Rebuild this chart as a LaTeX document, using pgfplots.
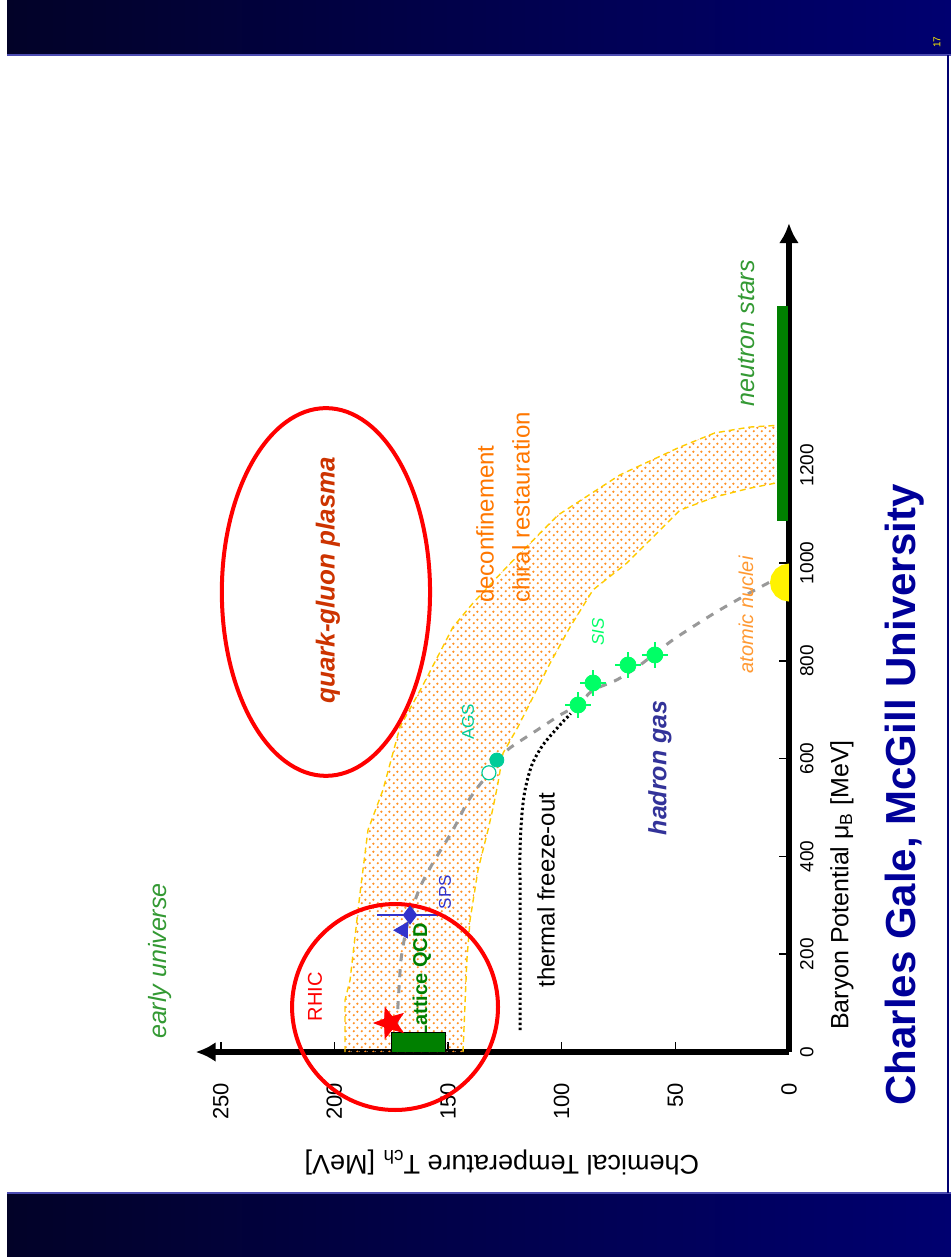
\documentclass[border=0pt]{standalone}
\usepackage{pgfplots}
\pgfplotsset{compat=1.18}
\usepackage{fontspec}
\setmainfont{Liberation Sans}
\usetikzlibrary{arrows.meta,patterns}
\definecolor{bandgold}{HTML}{FFCC00}
\definecolor{dotorange}{HTML}{FF9126}
\definecolor{qgpred}{HTML}{CC3300}
\definecolor{hadblue}{HTML}{333399}
\definecolor{decorange}{HTML}{FF7700}
\definecolor{eugreen}{HTML}{339933}
\definecolor{nsgreen}{HTML}{008000}
\definecolor{spsblue}{HTML}{3333CC}
\definecolor{agsteal}{HTML}{00CC99}
\definecolor{sisgreen}{HTML}{00FF66}
\definecolor{fogray}{HTML}{999999}
\definecolor{nucorange}{HTML}{FF9933}
\definecolor{authblue}{HTML}{000099}
\definecolor{bandL}{HTML}{020228}
\definecolor{bandR}{HTML}{000070}
\pgfdeclarepatterninherentlycolored{orangedots}{\pgfpointorigin}{\pgfpoint{4pt}{4pt}}{\pgfpoint{4pt}{4pt}}{%
  \pgfsetfillcolor{dotorange}%
  \pgfpathcircle{\pgfpoint{1pt}{1pt}}{0.7pt}%
  \pgfpathcircle{\pgfpoint{3pt}{3pt}}{0.7pt}%
  \pgfusepath{fill}}
\pgfdeclareplotmark{fstar}{%
  \pgfpathmoveto{\pgfpointpolar{90}{\pgfplotmarksize}}%
  \pgfpathlineto{\pgfpointpolar{126}{0.42\pgfplotmarksize}}%
  \pgfpathlineto{\pgfpointpolar{162}{\pgfplotmarksize}}%
  \pgfpathlineto{\pgfpointpolar{198}{0.42\pgfplotmarksize}}%
  \pgfpathlineto{\pgfpointpolar{234}{\pgfplotmarksize}}%
  \pgfpathlineto{\pgfpointpolar{270}{0.42\pgfplotmarksize}}%
  \pgfpathlineto{\pgfpointpolar{306}{\pgfplotmarksize}}%
  \pgfpathlineto{\pgfpointpolar{342}{0.42\pgfplotmarksize}}%
  \pgfpathlineto{\pgfpointpolar{18}{\pgfplotmarksize}}%
  \pgfpathlineto{\pgfpointpolar{54}{0.42\pgfplotmarksize}}%
  \pgfpathclose
  \pgfusepathqfillstroke}
\begin{document}
\begin{tikzpicture}
\begin{axis}[
  scale only axis,
  width=296.6pt, height=414.4pt,
  x dir=reverse,
  xmin=0, xmax=261, ymin=0, ymax=1695,
  enlargelimits=false,
  axis x line=bottom, axis y line=right,
  axis line style={line width=3pt, -{Latex[length=10pt,width=10pt]}},
  clip=false,
  xtick={0,50,100,150,200,250},
  ytick={0,200,400,600,800,1000,1200},
  tick align=inside,
  major tick length=5pt,
  tick style={black, line width=0.8pt},
  /pgf/number format/assume math mode=true,
  /pgf/number format/1000 sep={},
  xticklabel style={rotate=90, anchor=east, font=\fontsize{11}{13}\selectfont},
  yticklabel style={rotate=90, anchor=north, font=\fontsize{9.5}{11}\selectfont},
  xticklabel shift=12pt,
  yticklabel shift=2pt,
]
% slide bands
\fill[left color=bandL, right color=bandR] (axis cs:344,2038.9) rectangle (axis cs:-71.3,2151.3);
\fill[left color=bandL, right color=bandR] (axis cs:344,-419.2) rectangle (axis cs:-71.3,-288.3);
\draw[color=blue!40!gray, line width=0.6pt] (axis cs:344,2038.9) -- (axis cs:-71.3,2038.9);
\draw[color=blue!40!gray, line width=0.6pt] (axis cs:344,-288.3) -- (axis cs:-71.3,-288.3);
\draw[color=bandR, line width=0.6pt] (axis cs:-70,-288.3) -- (axis cs:-70,2038.9);
\node[rotate=90, text=yellow, font=\fontsize{5}{6}\selectfont] at (axis cs:-65.1,2065) {17};
\coordinate (BL) at (axis cs:347.1,-419.2);
\coordinate (TR) at (axis cs:-71.27,2151.3);

% transition band
\addplot[draw=none, pattern=orangedots] coordinates {
 (195.3,0) (195.3,106) (193.1,147) (188.7,325) (185.2,454) (178.6,536) (171.1,665) (161.5,746) (147.8,869) (139.0,918) (124.1,992) (109.5,1061) (101.6,1098) (74.4,1180) (48.0,1237) (32.6,1266) (17.2,1278) (3,1282)
 (3,1166) (17.2,1153) (32.6,1135) (48.0,1108) (58.1,1061) (71.3,1000) (86.2,945) (96.3,869) (105.1,795) (119.2,665) (125.8,611) (128.0,550) (130.2,499) (132.4,454) (136.8,372) (140.3,270) (141.7,188) (143.4,0)};
\addplot[bandgold, line width=0.7pt, dash pattern=on 3pt off 2pt] coordinates {
 (195.3,0) (195.3,106) (193.1,147) (188.7,325) (185.2,454) (178.6,536) (171.1,665) (161.5,746) (147.8,869) (139.0,918) (124.1,992) (109.5,1061) (101.6,1098) (74.4,1180) (48.0,1237) (32.6,1266) (17.2,1278) (3,1282)};
\addplot[bandgold, line width=0.7pt, dash pattern=on 3pt off 2pt] coordinates {
 (143.4,0) (141.7,188) (140.3,270) (136.8,372) (132.4,454) (130.2,499) (128.0,550) (125.8,611) (119.2,665) (105.1,795) (96.3,869) (86.2,945) (71.3,1000) (58.1,1061) (48.0,1108) (32.6,1135) (17.2,1153) (3,1166)};

% neutron stars bar
\addplot[fill=nsgreen, draw=none] coordinates {(0.5,1085) (5.3,1085) (5.3,1525) (0.5,1525)};
% atomic nuclei half disc
\addplot[fill=yellow, draw=none] coordinates {(0,921.1) (3.20,924.1) (5.91,932.5) (7.72,945.1) (8.36,960) (7.72,974.9) (5.91,987.5) (3.20,995.9) (0,998.9)};

% chemical freeze-out curve
\addplot[fogray, line width=1.5pt, dash pattern=on 4pt off 4pt, smooth, tension=0.4] coordinates {
 (172.5,55) (171.6,127) (170.7,188) (168.9,239) (166.7,280) (162.3,337) (156.6,387) (147.8,454) (141.7,509) (136.8,542) (131.5,573) (128.5,597) (122.7,622) (110.9,658) (100.7,689) (92.8,710) (86.2,740) (75.7,761) (65.6,791) (51.0,843) (32.6,898) (17.2,939) (8.4,961)};
% thermal freeze-out curve
\addplot[black, line width=1.5pt, dash pattern=on 1.2pt off 1.3pt, smooth] coordinates {
 (118.3,45) (118.3,311) (118.3,413) (117.5,485) (116.1,536) (113.1,587) (108.2,628) (100.7,669) (96,692)};

% texts
\node[rotate=90, text=eugreen, font=\fontsize{12.5}{15}\selectfont\itshape] at (axis cs:276.7,186) {early universe};
\node[rotate=90, text=red, font=\fontsize{10}{12}\selectfont] at (axis cs:208.5,112.5) {RHIC};
\node[rotate=90, anchor=west, text=nsgreen, font=\fontsize{10}{12}\selectfont\bfseries] at (axis cs:161.5,14.3) {Lattice QCD};
\node[rotate=90, text=spsblue, font=\fontsize{8.5}{10}\selectfont] at (axis cs:151.3,327) {SPS};
\node[rotate=90, text=agsteal, font=\fontsize{8.5}{10}\selectfont] at (axis cs:141.2,675) {AGS};
\node[rotate=90, text=sisgreen, font=\fontsize{8.5}{10}\selectfont\itshape] at (axis cs:84.0,859) {SIS};
\node[rotate=90, text=black, font=\fontsize{12}{14}\selectfont] at (axis cs:106.9,331) {thermal freeze-out};
\node[rotate=90, text=hadblue, font=\fontsize{12.5}{15}\selectfont\bfseries\itshape] at (axis cs:56.8,581) {hadron gas};
\node[rotate=90, text=qgpred, font=\fontsize{13}{15}\selectfont\bfseries\itshape] at (axis cs:202.8,965) {quark-gluon plasma};
\node[rotate=90, anchor=west, text=decorange, font=\fontsize{12}{14}\selectfont] at (axis cs:133.7,904) {deconfinement};
\node[rotate=90, anchor=west, text=decorange, font=\fontsize{12}{14}\selectfont] at (axis cs:117.9,904) {chiral restauration};
\node[rotate=90, text=eugreen, font=\fontsize{12.5}{15}\selectfont\itshape] at (axis cs:18.5,1470) {neutron stars};
\node[rotate=90, text=nucorange, font=\fontsize{10}{12}\selectfont\itshape] at (axis cs:18.9,894) {atomic nuclei};
\node[rotate=90, text=black, font=\fontsize{12.5}{15}\selectfont] at (axis cs:-23.3,341.5) {Baryon Potential μ\textsubscript{B} [MeV]};
\node[rotate=180, text=black, font=\fontsize{13.5}{16}\selectfont] at (axis cs:126.3,-225) {Chemical Temperature T\textsubscript{ch} [MeV]};
\node[rotate=90, text=authblue, font=\fontsize{21}{25}\selectfont\bfseries] at (axis cs:-51,525.6) {Charles Gale, McGill University};

% lattice QCD box
\addplot[fill=nsgreen, draw=black, line width=0.4pt] coordinates {(151.3,0) (151.3,41) (174.7,41) (174.7,0)};

% SPS
\addplot[only marks, mark=diamond*, mark size=4.5pt, color=spsblue,
  error bars/.cd, x dir=both, x fixed=14.5, error mark=none, error bar style={line width=0.6pt}]
  coordinates {(166.7,280)};
\addplot[only marks, mark=triangle*, mark size=4.5pt, color=spsblue, mark options={rotate=90}]
  coordinates {(169.8,249)};
% AGS
\addplot[only marks, mark=*, mark size=3.5pt, color=agsteal, mark options={fill=white, line width=0.6pt}]
  coordinates {(132,571)};
\addplot[only marks, mark=*, mark size=3.5pt, color=agsteal]
  coordinates {(128.5,597)};
% SIS
\addplot[only marks, mark=*, mark size=4pt, color=sisgreen,
  error bars/.cd, x dir=both, x fixed=5.7, y dir=both, y fixed=27, error mark=none, error bar style={line width=0.8pt}]
  coordinates {(92.8,709.6) (86.2,754.6) (70.8,791.4) (59.0,811.9)};

% RHIC star
\addplot[only marks, mark=fstar, mark size=8pt, color=red, mark options={rotate=90}]
  coordinates {(175.5,59.3)};

% circles
\draw[red, line width=2pt] (axis cs:173.3,92) ellipse [x radius=45.3, y radius=210.6];
\draw[red, line width=2pt] (axis cs:203.7,940.7) ellipse [x radius=45.8, y radius=376];
\end{axis}
\pgfresetboundingbox
\path[use as bounding box] (BL) rectangle (TR);
\end{tikzpicture}
\end{document}
